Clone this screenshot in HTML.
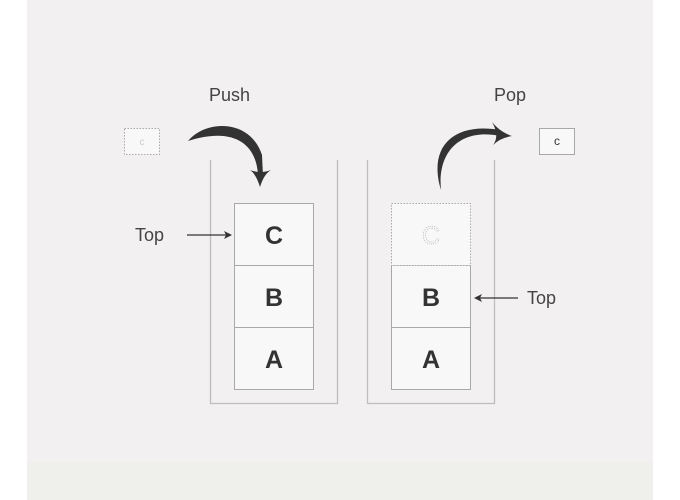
<!DOCTYPE html>
<html><head><style>html,body{margin:0;padding:0;background:#fff;width:680px;height:500px;overflow:hidden}</style></head>
<body>
<svg width="680" height="500" viewBox="0 0 680 500" xmlns="http://www.w3.org/2000/svg" font-family="Liberation Sans, sans-serif">
<rect x="27" y="0" width="626" height="500" fill="#f2f0f0"/>
<rect x="27" y="462" width="626" height="38" fill="#efefeb"/>
<path d="M210.5 160 V403.5 H337.5 V160" fill="none" stroke="#bdbdbd" stroke-width="1.3"/>
<path d="M367.5 160 V403.5 H494.5 V160" fill="none" stroke="#bdbdbd" stroke-width="1.3"/>
<g fill="#f8f8f8" stroke="#a8a8a8" stroke-width="1">
<rect x="234.5" y="203.5" width="79" height="62"/>
<rect x="234.5" y="265.5" width="79" height="62"/>
<rect x="234.5" y="327.5" width="79" height="62"/>
<rect x="391.5" y="265.5" width="79" height="62"/>
<rect x="391.5" y="327.5" width="79" height="62"/>
<rect x="539.5" y="128.5" width="35" height="26"/>
</g>
<rect x="391.5" y="203.5" width="79" height="62" fill="#f8f8f8" stroke="#aaa" stroke-dasharray="1.5 1.5"/>
<rect x="124.5" y="128.5" width="35" height="26" fill="#f8f8f8" stroke="#aaa" stroke-dasharray="1.5 1.5"/>
<g font-weight="bold" font-size="25" fill="#333" text-anchor="middle">
<text x="274" y="244">C</text><text x="274" y="306">B</text><text x="274" y="368">A</text>
<text x="431" y="306">B</text><text x="431" y="368">A</text>
</g>
<text x="431" y="244" font-size="25" text-anchor="middle" fill="none" stroke="#bbb" stroke-width="0.8" stroke-dasharray="1 1">C</text>
<text x="142" y="145" font-size="10" text-anchor="middle" fill="#ccc">c</text>
<text x="557" y="145" font-size="12" text-anchor="middle" fill="#333">c</text>
<g font-size="18" fill="#444">
<text x="209" y="101">Push</text>
<text x="494" y="101">Pop</text>
<text x="135" y="241">Top</text>
<text x="527" y="304">Top</text>
</g>
<line x1="187" y1="235" x2="226" y2="235" stroke="#333" stroke-width="1.2"/>
<path d="M232 235 L224 231 L226 235 L224 239Z" fill="#333"/>
<line x1="478" y1="298" x2="518" y2="298" stroke="#333" stroke-width="1.2"/>
<path d="M474 298 L482 294 L480 298 L482 302Z" fill="#333"/>
<path d="M188 141 C205 120 250 118 262 155 L263 176 L258 176 C257 145 235 126 188 141Z" fill="#333"/>
<path d="M250 170 Q256 174 260 187 Q264 174 271 170 Q261 174 250 170Z" fill="#333"/>
<path d="M441 190 C428 148 452 122 500 130 L500 136 C462 128 437 150 441 190Z" fill="#333"/>
<path d="M492 122 Q500 132 512 136 Q500 138 493 145 Q500 136 492 122Z" fill="#333"/>
</svg>
</body></html>
